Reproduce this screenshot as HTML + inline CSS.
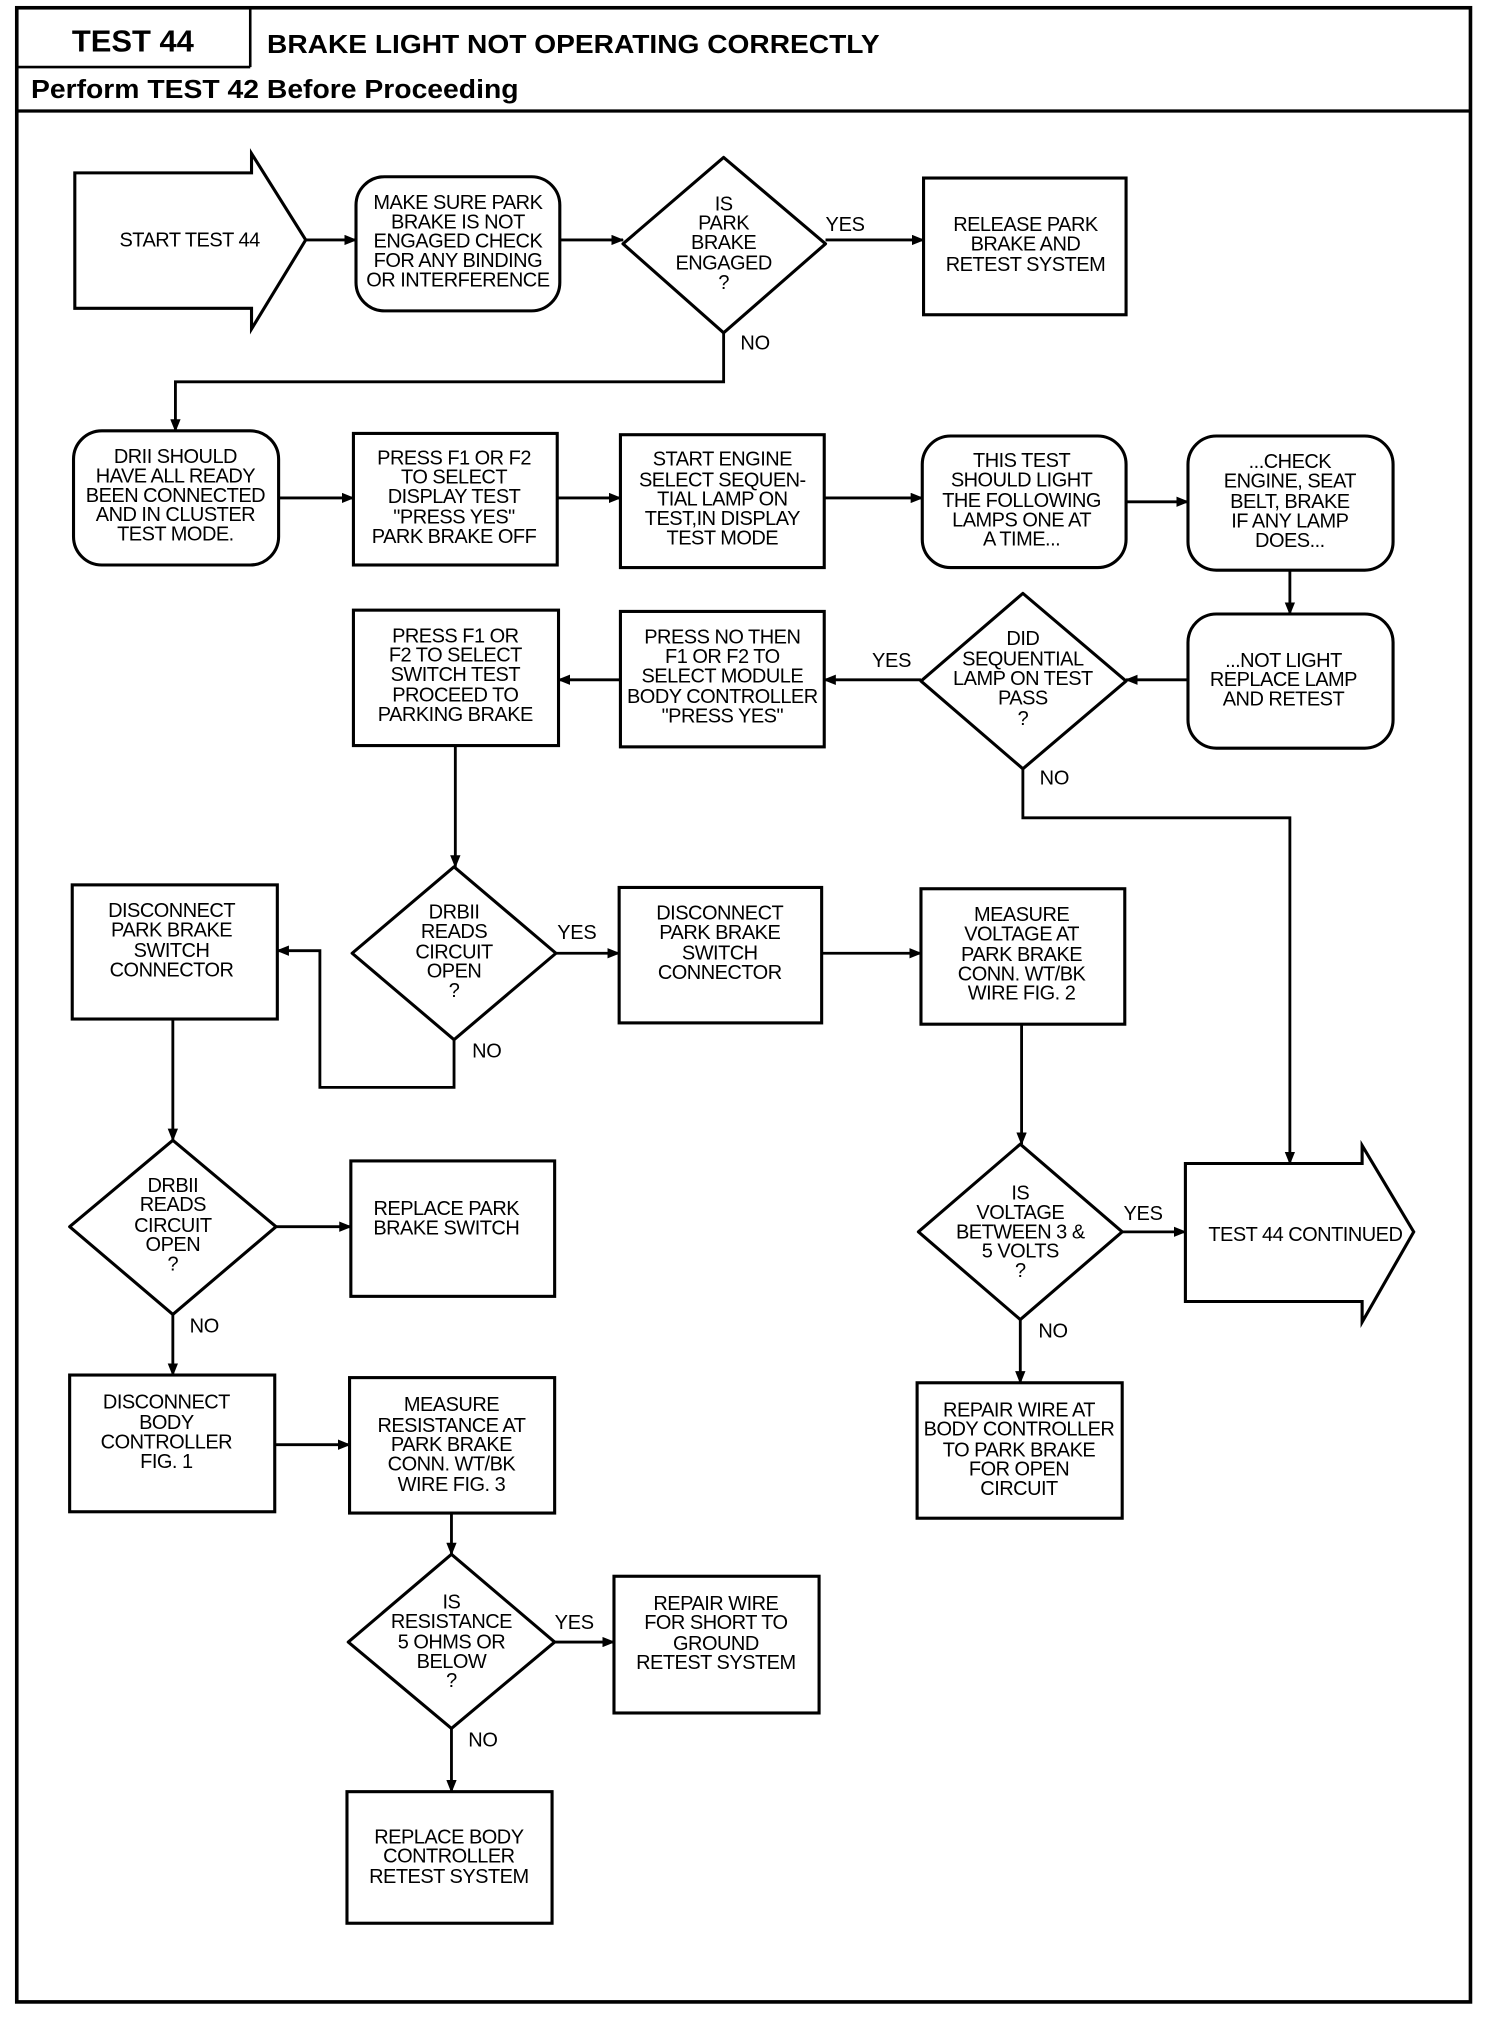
<!DOCTYPE html>
<html><head><meta charset="utf-8"><style>
html,body{margin:0;padding:0;background:#fff;}
svg{display:block;}
.t{font-family:"Liberation Sans",sans-serif;font-size:15.5px;letter-spacing:-0.4px;text-anchor:middle;fill:#000;}
.l{font-family:"Liberation Sans",sans-serif;font-size:15.5px;letter-spacing:-0.2px;fill:#000;}
.s{fill:none;stroke:#000;stroke-width:2.4;}
</style></head><body>
<svg width="1504" height="2020" viewBox="0 0 1166 1566" xmlns="http://www.w3.org/2000/svg">
<defs><marker id="a" markerWidth="10" markerHeight="8" refX="9" refY="4" orient="auto" markerUnits="userSpaceOnUse"><path d="M0,0 L10,4 L0,8 z" fill="#000"/></marker></defs>
<rect x="13" y="6" width="1127" height="1546" fill="none" stroke="#000" stroke-width="2.8"/>
<line x1="194" y1="6" x2="194" y2="52" stroke="#000" stroke-width="2"/>
<line x1="13" y1="52" x2="194" y2="52" stroke="#000" stroke-width="2"/>
<line x1="13" y1="86" x2="1140" y2="86" stroke="#000" stroke-width="2.5"/>
<text x="103" y="40" style="font-family:'Liberation Sans',sans-serif;font-weight:bold;font-size:24px;text-anchor:middle">TEST 44</text>
<text x="207" y="41" textLength="475" lengthAdjust="spacingAndGlyphs" style="font-family:'Liberation Sans',sans-serif;font-weight:bold;font-size:20px">BRAKE LIGHT NOT OPERATING CORRECTLY</text>
<text x="24" y="76" textLength="378" lengthAdjust="spacingAndGlyphs" style="font-family:'Liberation Sans',sans-serif;font-weight:bold;font-size:20px">Perform TEST 42 Before Proceeding</text>

<g class="s">
<polygon points="58,134 195,134 195,119 237,186 195,255 195,239 58,239"/>
<rect x="276" y="137" width="158" height="104" rx="22"/>
<polygon points="483,189 561,122 640,189 561,258" stroke-linejoin="round"/>
<rect x="716" y="138" width="157" height="106"/>
<rect x="57" y="334" width="159" height="104" rx="22"/>
<rect x="274" y="336" width="158" height="102"/>
<rect x="481" y="337" width="158" height="103"/>
<rect x="715" y="338" width="158" height="102" rx="22"/>
<rect x="921" y="338" width="159" height="104" rx="22"/>
<rect x="921" y="476" width="159" height="104" rx="22"/>
<polygon points="714,528 793,460 873,528 793,596" stroke-linejoin="round"/>
<rect x="481" y="474" width="158" height="105"/>
<rect x="274" y="473" width="159" height="105"/>
<polygon points="273,739 352,672 431,739 352,806" stroke-linejoin="round"/>
<rect x="480" y="688" width="157" height="105"/>
<rect x="714" y="689" width="158" height="105"/>
<rect x="56" y="686" width="159" height="104"/>
<polygon points="54,951 134,884 214,951 134,1019" stroke-linejoin="round"/>
<rect x="272" y="900" width="158" height="105"/>
<polygon points="712,955 791,887 870,955 791,1023" stroke-linejoin="round"/>
<polygon points="919,902 1056,902 1056,888 1096,955 1056,1025 1056,1009 919,1009"/>
<rect x="711" y="1072" width="159" height="105"/>
<rect x="54" y="1066" width="159" height="106"/>
<rect x="271" y="1068" width="159" height="105"/>
<polygon points="270,1273 350,1205 430,1273 350,1340" stroke-linejoin="round"/>
<rect x="476" y="1222" width="159" height="106"/>
<rect x="269" y="1389" width="159" height="102"/>
</g>

<g stroke="#000" stroke-width="2.2" fill="none" marker-end="url(#a)">
<line x1="237" y1="186" x2="276" y2="186"/>
<line x1="434" y1="186" x2="483" y2="186"/>
<line x1="640" y1="186" x2="716" y2="186"/>
<polyline points="561,258 561,296 136,296 136,334"/>
<line x1="216" y1="386" x2="274" y2="386"/>
<line x1="432" y1="386" x2="481" y2="386"/>
<line x1="639" y1="386" x2="715" y2="386"/>
<line x1="873" y1="389" x2="921" y2="389"/>
<line x1="1000" y1="442" x2="1000" y2="476"/>
<line x1="921" y1="527" x2="873" y2="527"/>
<line x1="714" y1="527" x2="639" y2="527"/>
<line x1="481" y1="527" x2="433" y2="527"/>
<line x1="353" y1="578" x2="353" y2="672"/>
<polyline points="793,596 793,634 1000,634 1000,902"/>
<line x1="431" y1="739" x2="480" y2="739"/>
<line x1="637" y1="739" x2="714" y2="739"/>
<line x1="792" y1="794" x2="792" y2="887"/>
<polyline points="352,806 352,843 248,843 248,737 215,737"/>
<line x1="134" y1="790" x2="134" y2="884"/>
<line x1="214" y1="951" x2="272" y2="951"/>
<line x1="134" y1="1019" x2="134" y2="1066"/>
<line x1="870" y1="955" x2="919" y2="955"/>
<line x1="791" y1="1023" x2="791" y2="1072"/>
<line x1="213" y1="1120" x2="271" y2="1120"/>
<line x1="350" y1="1173" x2="350" y2="1205"/>
<line x1="430" y1="1273" x2="476" y2="1273"/>
<line x1="350" y1="1340" x2="350" y2="1389"/>
</g>

<g class="l">
<text x="640" y="179">YES</text>
<text x="574" y="271">NO</text>
<text x="676" y="517">YES</text>
<text x="806" y="608">NO</text>
<text x="432" y="728">YES</text>
<text x="366" y="820">NO</text>
<text x="147" y="1033">NO</text>
<text x="871" y="946">YES</text>
<text x="805" y="1037">NO</text>
<text x="430" y="1263">YES</text>
<text x="363" y="1354">NO</text>
</g>

<g class="t">
<text x="147" y="191">START TEST 44</text>
<text x="355" y="162">MAKE SURE PARK</text><text x="355" y="177">BRAKE IS NOT</text><text x="355" y="192">ENGAGED CHECK</text><text x="355" y="207">FOR ANY BINDING</text><text x="355" y="222">OR INTERFERENCE</text>
<text x="561" y="163">IS</text><text x="561" y="178">PARK</text><text x="561" y="193">BRAKE</text><text x="561" y="209">ENGAGED</text><text x="561" y="224">?</text>
<text x="795" y="179">RELEASE PARK</text><text x="795" y="194">BRAKE AND</text><text x="795" y="210">RETEST SYSTEM</text>
<text x="136" y="359">DRII SHOULD</text><text x="136" y="374">HAVE ALL READY</text><text x="136" y="389">BEEN CONNECTED</text><text x="136" y="404">AND IN CLUSTER</text><text x="136" y="419">TEST MODE.</text>
<text x="352" y="360">PRESS F1 OR F2</text><text x="352" y="375">TO SELECT</text><text x="352" y="390">DISPLAY TEST</text><text x="352" y="406">"PRESS YES"</text><text x="352" y="421">PARK BRAKE OFF</text>
<text x="560" y="361">START ENGINE</text><text x="560" y="377">SELECT SEQUEN-</text><text x="560" y="392">TIAL LAMP ON</text><text x="560" y="407">TEST,IN DISPLAY</text><text x="560" y="422">TEST MODE</text>
<text x="792" y="362">THIS TEST</text><text x="792" y="377">SHOULD LIGHT</text><text x="792" y="393">THE FOLLOWING</text><text x="792" y="408">LAMPS ONE AT</text><text x="792" y="423">A TIME...</text>
<text x="1000" y="363">...CHECK</text><text x="1000" y="378">ENGINE, SEAT</text><text x="1000" y="394">BELT, BRAKE</text><text x="1000" y="409">IF ANY LAMP</text><text x="1000" y="424">DOES...</text>
<text x="995" y="517">...NOT LIGHT</text><text x="995" y="532">REPLACE LAMP</text><text x="995" y="547">AND RETEST</text>
<text x="793" y="500">DID</text><text x="793" y="516">SEQUENTIAL</text><text x="793" y="531">LAMP ON TEST</text><text x="793" y="546">PASS</text><text x="793" y="562">?</text>
<text x="560" y="499">PRESS NO THEN</text><text x="560" y="514">F1 OR F2 TO</text><text x="560" y="529">SELECT MODULE</text><text x="560" y="545">BODY CONTROLLER</text><text x="560" y="560">"PRESS YES"</text>
<text x="353" y="498">PRESS F1 OR</text><text x="353" y="513">F2 TO SELECT</text><text x="353" y="528">SWITCH TEST</text><text x="353" y="544">PROCEED TO</text><text x="353" y="559">PARKING BRAKE</text>
<text x="352" y="712">DRBII</text><text x="352" y="727">READS</text><text x="352" y="743">CIRCUIT</text><text x="352" y="758">OPEN</text><text x="352" y="773">?</text>
<text x="558" y="713">DISCONNECT</text><text x="558" y="728">PARK BRAKE</text><text x="558" y="744">SWITCH</text><text x="558" y="759">CONNECTOR</text>
<text x="792" y="714">MEASURE</text><text x="792" y="729">VOLTAGE AT</text><text x="792" y="745">PARK BRAKE</text><text x="792" y="760">CONN. WT/BK</text><text x="792" y="775">WIRE FIG. 2</text>
<text x="133" y="711">DISCONNECT</text><text x="133" y="726">PARK BRAKE</text><text x="133" y="742">SWITCH</text><text x="133" y="757">CONNECTOR</text>
<text x="134" y="924">DRBII</text><text x="134" y="939">READS</text><text x="134" y="955">CIRCUIT</text><text x="134" y="970">OPEN</text><text x="134" y="985">?</text>
<text x="346" y="942">REPLACE PARK</text><text x="346" y="957">BRAKE SWITCH</text>
<text x="791" y="930">IS</text><text x="791" y="945">VOLTAGE</text><text x="791" y="960">BETWEEN 3 &amp;</text><text x="791" y="975">5 VOLTS</text><text x="791" y="990">?</text>
<text x="1012" y="962">TEST 44 CONTINUED</text>
<text x="790" y="1098">REPAIR WIRE AT</text><text x="790" y="1113">BODY CONTROLLER</text><text x="790" y="1129">TO PARK BRAKE</text><text x="790" y="1144">FOR OPEN</text><text x="790" y="1159">CIRCUIT</text>
<text x="129" y="1092">DISCONNECT</text><text x="129" y="1108">BODY</text><text x="129" y="1123">CONTROLLER</text><text x="129" y="1138">FIG. 1</text>
<text x="350" y="1094">MEASURE</text><text x="350" y="1110">RESISTANCE AT</text><text x="350" y="1125">PARK BRAKE</text><text x="350" y="1140">CONN. WT/BK</text><text x="350" y="1156">WIRE FIG. 3</text>
<text x="350" y="1247">IS</text><text x="350" y="1262">RESISTANCE</text><text x="350" y="1278">5 OHMS OR</text><text x="350" y="1293">BELOW</text><text x="350" y="1308">?</text>
<text x="555" y="1248">REPAIR WIRE</text><text x="555" y="1263">FOR SHORT TO</text><text x="555" y="1279">GROUND</text><text x="555" y="1294">RETEST SYSTEM</text>
<text x="348" y="1429">REPLACE BODY</text><text x="348" y="1444">CONTROLLER</text><text x="348" y="1460">RETEST SYSTEM</text>
</g>
</svg>
</body></html>
